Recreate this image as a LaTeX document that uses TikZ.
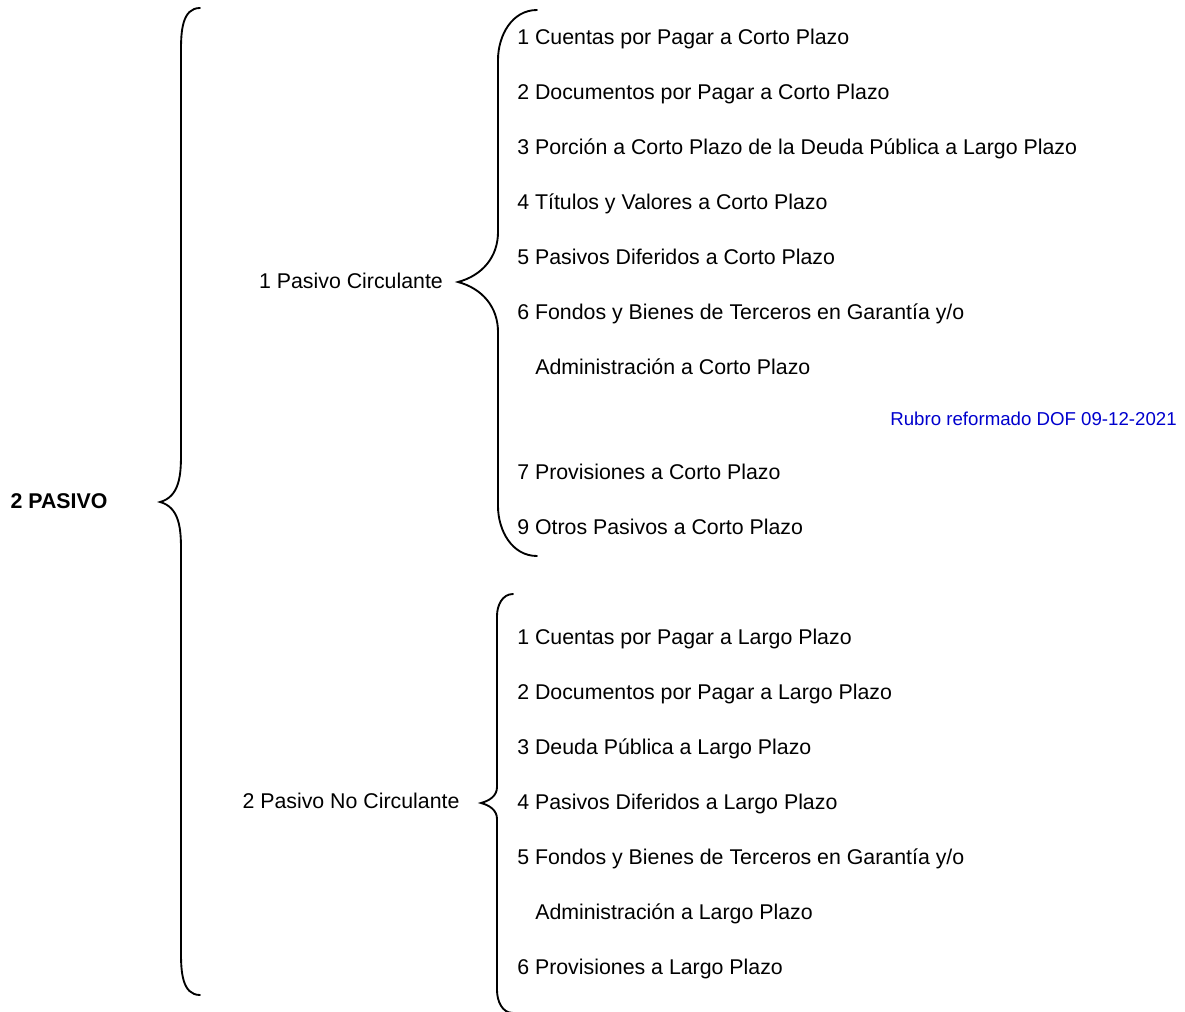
\documentclass[tikz,border=0pt]{standalone}
\usepackage{fontspec}
\setmainfont{Liberation Sans}
\usetikzlibrary{positioning}
\definecolor{noteblue}{RGB}{0,0,205}
\tikzstyle{item} = [anchor=west, inner sep=0pt, text height=11.5pt, text depth=0pt, font=\fontsize{16pt}{19pt}\selectfont]
\tikzstyle{group} = [inner sep=0pt, text height=11.5pt, text depth=0pt, font=\fontsize{16pt}{19pt}\selectfont]
\tikzstyle{root} = [group, font=\fontsize{16pt}{19pt}\selectfont\bfseries]
\tikzstyle{note} = [anchor=east, inner sep=0pt, text height=10pt, text depth=0pt, text=noteblue, font=\fontsize{14pt}{17pt}\selectfont]
\tikzstyle{curly} = [line width=1.4pt, line cap=round]

\begin{document}
\begin{tikzpicture}[x=0.75pt, y=0.75pt, node distance=41.25pt]
    \useasboundingbox (0,0) rectangle (1185,-1012);

    \node (pasivo) [root] at (59,-501) {2 PASIVO};
    \node (circ) [group] at (351,-281) {1 Pasivo Circulante};
    \node (nocirc) [group] at (351,-801) {2 Pasivo No Circulante};

    % pasivo circulante
    \node (pc1) [item] at (517,-36.5) {1 Cuentas por Pagar a Corto Plazo};
    \node (pc2) [below=of pc1.west, item] {2 Documentos por Pagar a Corto Plazo};
    \node (pc3) [below=of pc2.west, item] {3 Porción a Corto Plazo de la Deuda Pública a Largo Plazo};
    \node (pc4) [below=of pc3.west, item] {4 Títulos y Valores a Corto Plazo};
    \node (pc5) [below=of pc4.west, item] {5 Pasivos Diferidos a Corto Plazo};
    \node (pc6) [below=of pc5.west, item] {6 Fondos y Bienes de Terceros en Garantía y/o};
    \node (pc6b) [below=of pc6.west, item, xshift=13.5pt] {Administración a Corto Plazo};
    \node (rubro) [note] at (1177,-419) {Rubro reformado DOF 09-12-2021};
    \node (pc7) [below=78.75pt of pc6b.west, item, xshift=-13.5pt] {7 Provisiones a Corto Plazo};
    \node (pc9) [below=of pc7.west, item] {9 Otros Pasivos a Corto Plazo};

    % pasivo no circulante
    \node (pn1) [below=82.5pt of pc9.west, item] {1 Cuentas por Pagar a Largo Plazo};
    \node (pn2) [below=of pn1.west, item] {2 Documentos por Pagar a Largo Plazo};
    \node (pn3) [below=of pn2.west, item] {3 Deuda Pública a Largo Plazo};
    \node (pn4) [below=of pn3.west, item] {4 Pasivos Diferidos a Largo Plazo};
    \node (pn5) [below=of pn4.west, item] {5 Fondos y Bienes de Terceros en Garantía y/o};
    \node (pn5b) [below=of pn5.west, item, xshift=13.5pt] {Administración a Largo Plazo};
    \node (pn6) [below=of pn5b.west, item, xshift=-13.5pt] {6 Provisiones a Largo Plazo};

    % braces
    \draw [curly] (200,-8) to[out=180,in=90] (181,-50) -- (181,-455)
        to[out=-90,in=15] (160,-502) to[out=-15,in=90] (181,-549) -- (181,-953)
        to[out=-90,in=180] (200,-995);
    \draw [curly] (537,-10) to[out=180,in=90] (498,-60) -- (498,-232)
        to[out=-90,in=15] (458,-282) to[out=-15,in=90] (498,-332) -- (498,-506)
        to[out=-90,in=180] (537,-556);
    \draw [curly] (513,-594) to[out=180,in=90] (497,-616) -- (497,-787)
        to[out=-90,in=15] (481,-803) to[out=-15,in=90] (497,-819) -- (497,-990)
        to[out=-90,in=180] (513,-1013);
\end{tikzpicture}
\end{document}
